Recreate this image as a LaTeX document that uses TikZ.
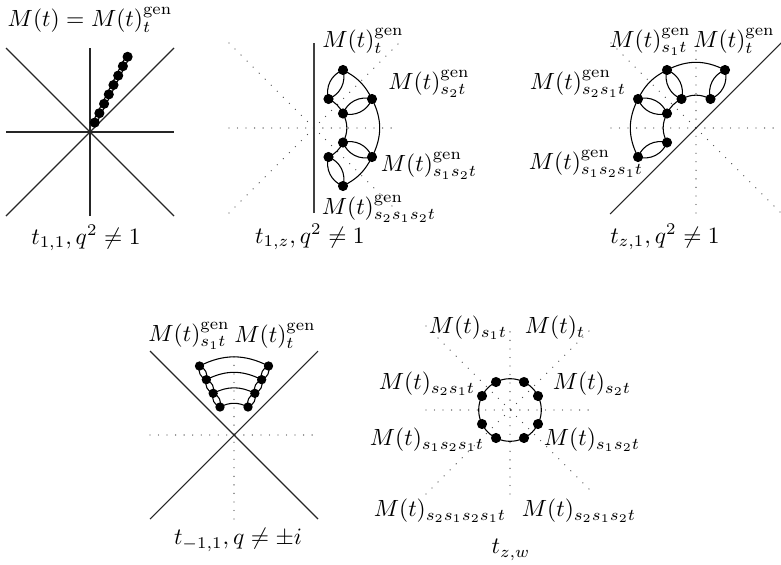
\RequirePackage{fix-cm}
\documentclass[tikz,border=0pt]{standalone}
\usepackage{graphicx}
\newcommand{\mylbl}[1]{\scalebox{1.76}{$#1$}}
\begin{document}
\begin{tikzpicture}[x=0.75pt,y=0.75pt,
  ray/.style={line width=0.8pt, black!85},
  dotray/.style={line width=1pt, black!70, dash pattern=on 0pt off 6.4pt, line cap=round},
  edg/.style={line width=0.8pt},
  lbl/.style={inner sep=0pt},
  dotfill/.style={fill=black},
]
\useasboundingbox (0,0) rectangle (781,-564);

% ---------------- Panel 1 ----------------
\coordinate (c1) at (90,-132);
\draw[ray] (c1) ++(-84,0) -- ++(168,0);
\draw[ray] (c1) ++(0,-84) -- ++(0,168);
\draw[ray] (c1) ++(-84,-84) -- ++(168,168);
\draw[ray] (c1) ++(-84,84) -- ++(168,-168);
\foreach \k in {1,...,8} {\coordinate (d\k) at ({90+4.7*\k},{-132+9.4*\k});}
\foreach \k in {1,...,7} {
  \pgfmathtruncatemacro{\kn}{\k+1}
  \draw[edg] (d\k) to[bend left=40] (d\kn) to[bend left=40] (d\k);
}
\foreach \k in {1,...,8} {\fill[dotfill] (d\k) circle (3.8pt);}
\node[lbl] (l1a) at (90,-20) {\mylbl{M(t)=M(t)^{\mathrm{gen}}_t}};
\node[lbl] (l1b) at (86,-238) {\mylbl{t_{1,1}, q^2\neq 1}};

% ---------------- Panel 2 ----------------
\coordinate (c2) at (314,-128);
\draw[dotray] (c2) ++(-85,0) -- ++(170,0);
\draw[dotray] (c2) ++(-85,-85) -- ++(170,170);
\draw[dotray] (c2) ++(-85,85) -- ++(170,-170);
\draw[ray, line width=1pt, black!75] (c2) ++(0,-85) -- ++(0,170);
\coordinate (qa) at (343,-70);
\coordinate (qb) at (328.5,-99);
\coordinate (qc) at (372,-99);
\coordinate (qd) at (343,-113.5);
\coordinate (qe) at (343,-142.5);
\coordinate (qf) at (328.5,-157);
\coordinate (qg) at (372,-157);
\coordinate (qh) at (343,-186);
\draw[edg] (qa) to[bend left=18] (qc);
\draw[edg] (qc) to[bend left=27] (qg);
\draw[edg] (qg) to[bend left=18] (qh);
\draw[edg] (qb) to[bend left=18] (qd);
\draw[edg] (qd) to[bend left=27] (qe);
\draw[edg] (qe) to[bend left=18] (qf);
\draw[edg] (qa) to[bend left=42] (qb) to[bend left=42] (qa);
\draw[edg] (qd) to[bend left=42] (qc) to[bend left=42] (qd);
\draw[edg] (qe) to[bend left=42] (qg) to[bend left=42] (qe);
\draw[edg] (qf) to[bend left=42] (qh) to[bend left=42] (qf);
\foreach \p in {qa,qb,qc,qd,qe,qf,qg,qh} {\fill[dotfill] (\p) circle (3.8pt);}
\node[lbl] (l2a) at (363,-41) {\mylbl{M(t)^{\mathrm{gen}}_t}};
\node[lbl] (l2b) at (429,-84) {\mylbl{M(t)^{\mathrm{gen}}_{s_2t}}};
\node[lbl] (l2c) at (429,-166) {\mylbl{M(t)^{\mathrm{gen}}_{s_1s_2t}}};
\node[lbl] (l2d) at (379,-209) {\mylbl{M(t)^{\mathrm{gen}}_{s_2s_1s_2t}}};
\node[lbl] (l2e) at (310,-237) {\mylbl{t_{1,z}, q^2\neq 1}};

% ---------------- Panel 3 ----------------
\coordinate (c3) at (696,-128);
\draw[dotray] (c3) ++(-85,0) -- ++(170,0);
\draw[dotray] (c3) ++(0,-85) -- ++(0,170);
\draw[dotray] (c3) ++(-85,85) -- ++(170,-170);
\draw[ray] (c3) ++(-86,-86) -- ++(172,172);
\coordinate (ra) at (667,-70);
\coordinate (rb) at (725,-70);
\coordinate (rc) at (638,-99);
\coordinate (rd) at (681.5,-99);
\coordinate (re) at (710.5,-99);
\coordinate (rf) at (667,-113.5);
\coordinate (rg) at (667,-142.5);
\coordinate (rh) at (638,-157);
\draw[edg] (ra) to[bend left=27] (rb);
\draw[edg] (rc) to[bend left=18] (ra);
\draw[edg] (rh) to[bend left=27] (rc);
\draw[edg] (rd) to[bend left=27] (re);
\draw[edg] (rf) to[bend left=18] (rd);
\draw[edg] (rg) to[bend left=27] (rf);
\draw[edg] (ra) to[bend left=42] (rd) to[bend left=42] (ra);
\draw[edg] (rb) to[bend left=42] (re) to[bend left=42] (rb);
\draw[edg] (rc) to[bend left=42] (rf) to[bend left=42] (rc);
\draw[edg] (rg) to[bend left=42] (rh) to[bend left=42] (rg);
\foreach \p in {ra,rb,rc,rd,re,rf,rg,rh} {\fill[dotfill] (\p) circle (3.8pt);}
\node[lbl] (l3a) at (650,-42) {\mylbl{M(t)^{\mathrm{gen}}_{s_1t}}};
\node[lbl] (l3b) at (734,-41) {\mylbl{M(t)^{\mathrm{gen}}_t}};
\node[lbl] (l3c) at (578,-84) {\mylbl{M(t)^{\mathrm{gen}}_{s_2s_1t}}};
\node[lbl] (l3d) at (586,-164) {\mylbl{M(t)^{\mathrm{gen}}_{s_1s_2s_1t}}};
\node[lbl] (l3e) at (665,-237) {\mylbl{t_{z,1}, q^2\neq 1}};

% ---------------- Panel 4 ----------------
\coordinate (c4) at (234,-435);
\draw[dotray] (c4) ++(-84,0) -- ++(168,0);
\draw[dotray] (c4) ++(0,-84) -- ++(0,168);
\draw[ray] (c4) ++(-84,-84) -- ++(168,168);
\draw[ray] (c4) ++(-84,84) -- ++(168,-168);
\foreach \k/\s in {1/28,2/41.67,3/55.33,4/69} {
  \coordinate (sl\k) at ({234-0.5*\s},{-435+\s});
  \coordinate (sr\k) at ({234+0.5*\s},{-435+\s});
}
\foreach \k in {1,...,4} {\draw[edg] (sl\k) to[bend left=27] (sr\k);}
\foreach \k in {1,...,3} {
  \pgfmathtruncatemacro{\kn}{\k+1}
  \draw[edg] (sl\k) to[bend left=45] (sl\kn) to[bend left=45] (sl\k);
  \draw[edg] (sr\k) to[bend left=45] (sr\kn) to[bend left=45] (sr\k);
}
\foreach \k in {1,...,4} {\fill[dotfill] (sl\k) circle (3.5pt); \fill[dotfill] (sr\k) circle (3.5pt);}
\node[lbl] (l4a) at (189,-336) {\mylbl{M(t)^{\mathrm{gen}}_{s_1t}}};
\node[lbl] (l4b) at (275,-336) {\mylbl{M(t)^{\mathrm{gen}}_t}};
\node[lbl] (l4c) at (238,-540) {\mylbl{t_{-1,1}, q\neq \pm i}};

% ---------------- Panel 5 ----------------
\coordinate (c5) at (510,-410);
\draw[dotray] (c5) ++(-84,0) -- ++(168,0);
\draw[dotray] (c5) ++(0,-84) -- ++(0,168);
\draw[dotray] (c5) ++(-84,-84) -- ++(168,168);
\draw[dotray] (c5) ++(-84,84) -- ++(168,-168);
\draw[edg] (c5) circle (31.3);
\foreach \a in {26.57,63.43,116.57,153.43,206.57,243.43,296.57,333.43} {
  \fill[dotfill] (c5) ++(\a:31.3) circle (3.8pt);
}
\node[lbl] (l5a) at (468,-328) {\mylbl{M(t)_{s_1t}}};
\node[lbl] (l5b) at (555,-328) {\mylbl{M(t)_t}};
\node[lbl] (l5c) at (427,-384) {\mylbl{M(t)_{s_2s_1t}}};
\node[lbl] (l5d) at (592,-384) {\mylbl{M(t)_{s_2t}}};
\node[lbl] (l5e) at (427,-440) {\mylbl{M(t)_{s_1s_2s_1t}}};
\node[lbl] (l5f) at (592,-440) {\mylbl{M(t)_{s_1s_2t}}};
\node[lbl] (l5g) at (440,-511) {\mylbl{M(t)_{s_2s_1s_2s_1t}}};
\node[lbl] (l5h) at (579,-511) {\mylbl{M(t)_{s_2s_1s_2t}}};
\node[lbl] (l5i) at (511,-550) {\mylbl{t_{z,w}}};
\end{tikzpicture}
\end{document}
